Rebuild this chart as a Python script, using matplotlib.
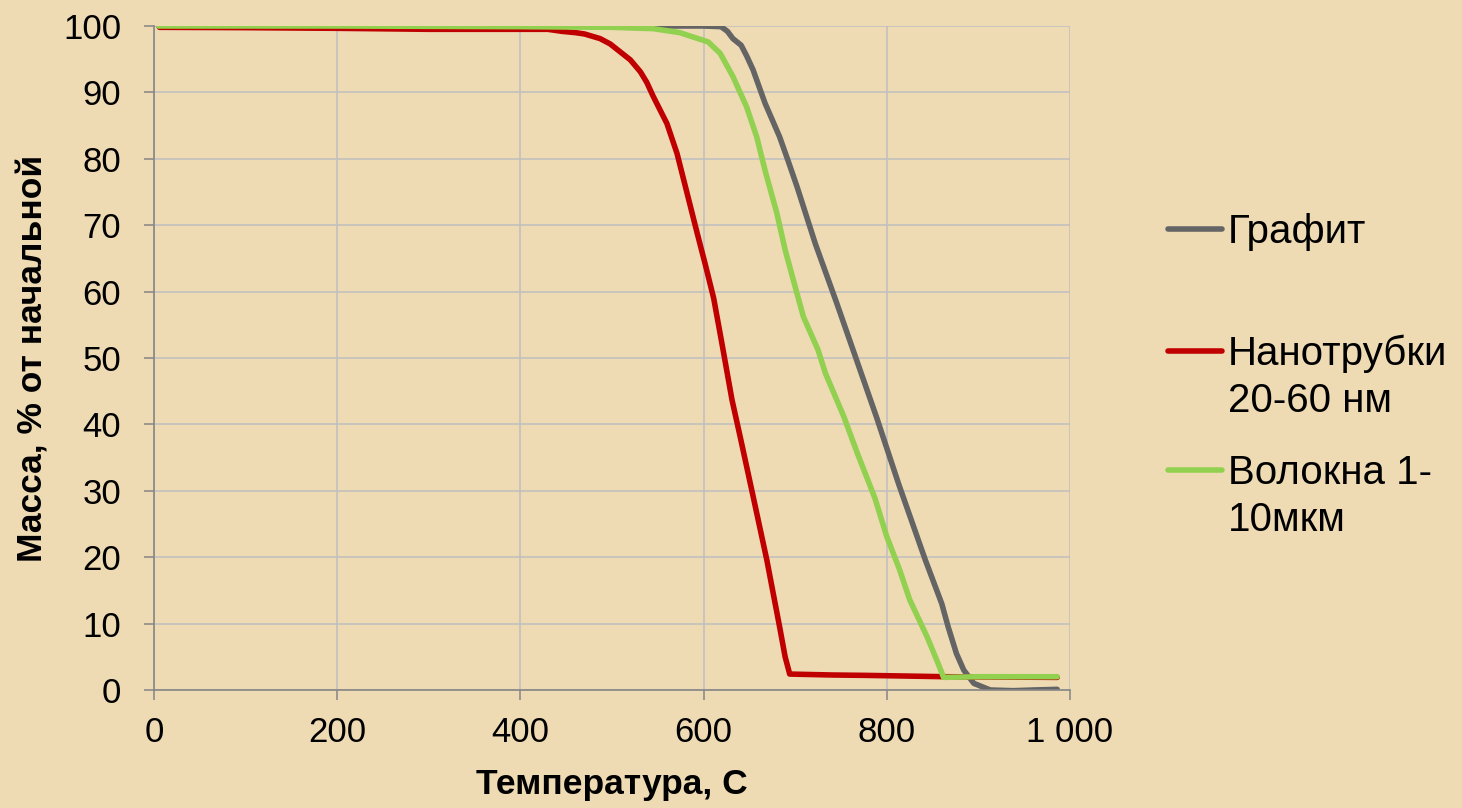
"""TGA curves: mass loss of graphite, nanotubes and fibres vs temperature."""

import matplotlib

matplotlib.use("Agg")

import matplotlib.pyplot as plt
from matplotlib.lines import Line2D
from matplotlib.ticker import FuncFormatter, MultipleLocator

plt.rcParams["font.family"] = ["Liberation Sans", "DejaVu Sans"]

# data (temperature, C / mass, %)
graphite_t = [5, 200, 400, 600, 619, 626, 632, 641, 647, 654, 667, 683, 692, 702,
              722, 745, 767, 789, 813, 842, 860, 867, 876, 884, 895, 913, 938, 960, 986]
graphite_m = [100, 100, 100, 100, 99.9, 99.2, 98.1, 97.1, 95.5, 93.4, 88.4, 83.3, 79.8, 75.8,
              67.2, 58.4, 49.7, 41.0, 31.0, 19.6, 13.0, 9.5, 5.5, 3.0, 1.0, 0.0, -0.1, 0.0, 0.1]

tubes_t = [6, 100, 200, 300, 430, 445, 460, 470, 487, 498, 509, 520, 531, 538, 545, 560, 571, 582, 593,
           602, 611, 620, 631, 640, 654, 669, 683, 689, 694, 740, 778, 865, 986]
tubes_m = [99.8, 99.75, 99.65, 99.5, 99.5, 99.2, 99.0, 98.8, 98.1, 97.3, 96.1, 94.9, 93.1, 91.5, 89.4,
           85.3, 80.8, 74.8, 68.8, 64.0, 59.0, 52.2, 43.7, 38.1, 29.2, 19.6, 9.5, 5.0, 2.4, 2.26, 2.2, 2.0, 1.9]

fibres_t = [5, 200, 400, 500, 545, 574, 605, 618, 632, 647, 658, 667, 680, 689, 702, 709,
            725, 733, 753, 768, 787, 800, 814, 825, 844, 856, 862, 900, 986]
fibres_m = [100, 100, 99.9, 99.8, 99.6, 99.0, 97.6, 95.9, 92.4, 87.8, 83.3, 78.3, 71.8, 66.3, 59.7, 56.2,
            51.2, 47.7, 41.2, 35.6, 28.9, 23.1, 18.1, 13.6, 8.0, 4.0, 1.9, 2.0, 2.0]

series_labels = ["Графит", "Нанотрубки\n20-60 нм", "Волокна 1-\n10мкм"]
series_colors = ["#646464", "#C00000", "#92D050"]

x_ticks = [0, 200, 400, 600, 800, 1000]
xlabel = "Температура, С"
ylabel = "Масса, % от начальной"

BG = "#EEDBB4"
AXIS_GREY = "#868686"
GRID_GREY = "#BFBFBF"
W, H = 1462, 808
LW = 4.0

fig = plt.figure(figsize=(W / 100, H / 100), dpi=100, facecolor=BG)
ax = fig.add_axes([154 / W, 1 - 690 / H, (1070 - 154) / W, (690 - 26) / H])
ax.set_facecolor("none")

for (t, m), lab, col in zip([(graphite_t, graphite_m), (tubes_t, tubes_m), (fibres_t, fibres_m)],
                            series_labels, series_colors):
    ax.plot(t, m, color=col, lw=LW, solid_joinstyle="round", solid_capstyle="round", label=lab)

ax.set_xlim(0, 1000)
ax.set_ylim(0, 100)
ax.set_xticks(x_ticks)
ax.yaxis.set_major_locator(MultipleLocator(10))
ax.xaxis.set_major_formatter(FuncFormatter(lambda v, _: f"{int(v):,}".replace(",", " ")))

ax.grid(True, color=GRID_GREY, lw=1.1)
ax.set_axisbelow(True)
for side in ("top", "right"):
    ax.spines[side].set_visible(False)
for side in ("left", "bottom"):
    ax.spines[side].set_color(AXIS_GREY)
    ax.spines[side].set_linewidth(1.2)

ax.tick_params(axis="both", length=7.5, width=1.1, color=AXIS_GREY, labelsize=25, labelcolor="black")
ax.tick_params(axis="y", pad=16)
ax.tick_params(axis="x", pad=11)

ax.set_xlabel(xlabel, fontsize=25.5, fontweight="bold")
ax.set_ylabel(ylabel, fontsize=25.5, fontweight="bold")
ax.xaxis.set_label_coords(0.5, -0.143)
ax.xaxis.label.set_va("center")
ax.yaxis.set_label_coords(-0.132, 0.5)
ax.yaxis.label.set_va("center")

# legend drawn by hand: handle sits on the first text line, like the original
baselines = [243, 365, 484]
line_step = 47
for lab, col, base in zip(series_labels, series_colors, baselines):
    yh = 1 - (base - 14.5) / H
    fig.add_artist(Line2D([1168 / W, 1222 / W], [yh, yh], color=col, lw=LW,
                          solid_capstyle="round", transform=fig.transFigure))
    for i, part in enumerate(lab.split("\n")):
        fig.text(1228 / W, 1 - (base + i * line_step) / H, part, fontsize=29,
                 ha="left", va="baseline")

fig.savefig("out.png", dpi=100, facecolor=BG)
